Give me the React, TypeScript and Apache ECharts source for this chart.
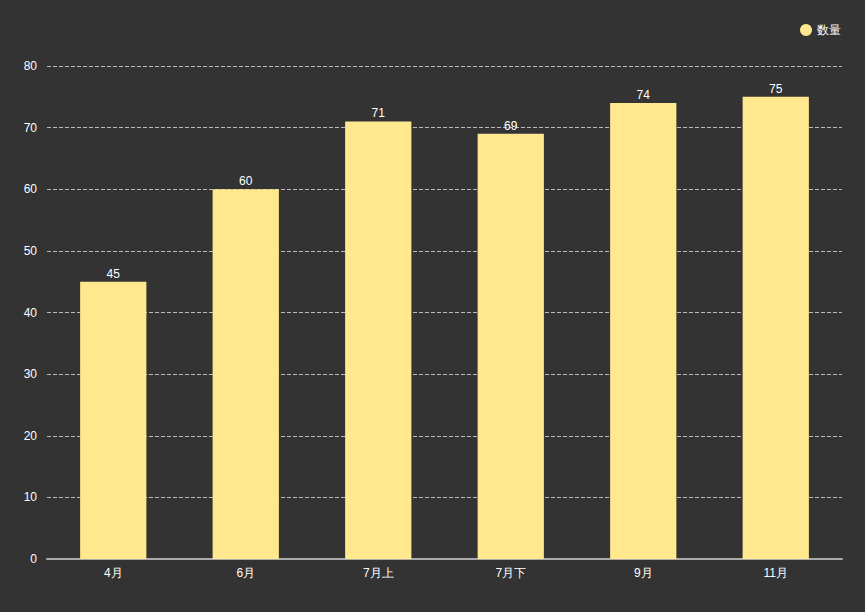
import { useEffect, useRef } from "react";
import * as echarts from "echarts";

const categories = ["4月", "6月", "7月上", "7月下", "9月", "11月"];
const counts = [45, 60, 71, 69, 74, 75];
const seriesName = "数量";

export default function App() {
  const ref = useRef<HTMLDivElement | null>(null);

  useEffect(() => {
    if (!ref.current) return;
    const chart = echarts.init(ref.current, null, { renderer: "svg" });
    chart.setOption({
      animation: false,
      backgroundColor: "#333333",
      textStyle: { fontFamily: "sans-serif" },
      legend: {
        right: 19,
        top: 19,
        icon: "circle",
        itemWidth: 12,
        itemHeight: 12,
        itemGap: 6,
        textStyle: { color: "#fff", fontSize: 12 },
        data: [seriesName],
      },
      grid: { left: 47, right: 23, top: 66, bottom: 53 },
      xAxis: {
        type: "category",
        data: categories,
        axisLine: { lineStyle: { color: "#aaa", width: 2 } },
        axisTick: { alignWithLabel: true, length: 4, lineStyle: { color: "#aaa" } },
        axisLabel: { color: "#fff", fontSize: 12, margin: 8 },
      },
      yAxis: {
        type: "value",
        min: 0,
        max: 80,
        interval: 10,
        axisLine: { show: false },
        axisTick: { show: false },
        axisLabel: { color: "#fff", fontSize: 12, margin: 10 },
        splitLine: { lineStyle: { color: "#bbb", type: "dashed" } },
      },
      series: [
        {
          name: seriesName,
          type: "bar",
          data: counts,
          barWidth: "50%",
          itemStyle: { color: "#FFE88E" },
          label: { show: true, position: "top", color: "#fff", fontSize: 12, distance: 2 },
        },
      ],
    });

    const onResize = () => chart.resize();
    window.addEventListener("resize", onResize);
    return () => {
      window.removeEventListener("resize", onResize);
      chart.dispose();
    };
  }, []);

  return (
    <div
      ref={ref}
      style={{ position: "fixed", left: 0, top: 0, width: 865, height: 612, background: "#333" }}
    />
  );
}
